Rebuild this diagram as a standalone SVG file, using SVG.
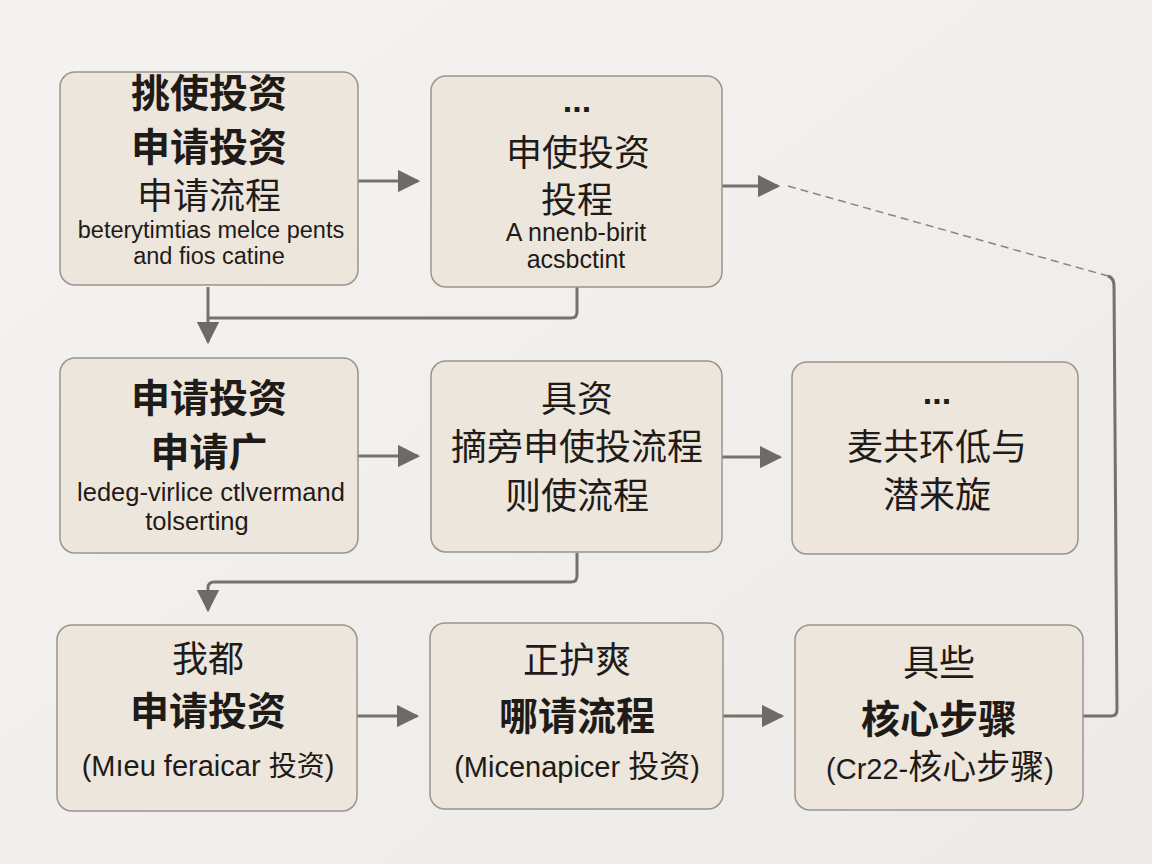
<svg xmlns="http://www.w3.org/2000/svg" width="1152" height="864" viewBox="0 0 1152 864">
<defs>
<linearGradient id="bg" x1="0" y1="0" x2="1" y2="1">
<stop offset="0" stop-color="#f4f3f1"/>
<stop offset="1" stop-color="#ecebe8"/>
</linearGradient>
<marker id="ah" viewBox="0 0 10 10" refX="9" refY="5" markerWidth="7.5" markerHeight="7.5" orient="auto">
<path d="M0,0 L10,5 L0,10 z" fill="#6f6a66"/>
</marker>
</defs>
<style>
.box{fill:#ede6dd;stroke:#9a948d;stroke-width:1.5}
text{font-family:"Liberation Sans","Noto Sans CJK SC",sans-serif;fill:#1f1b18;text-anchor:middle}
.b{font-family:"Noto Sans CJK SC",sans-serif;font-weight:700;font-size:39px}
.c{font-family:"Noto Sans CJK SC",sans-serif;font-weight:400;font-size:36px}
.k{font-family:"Noto Sans CJK SC",sans-serif}
.dots{font-size:34px;font-weight:700}
.con{fill:none;stroke:#77716c;stroke-width:3;stroke-linejoin:round}
.dash{fill:none;stroke:#8a8580;stroke-width:1.5;stroke-dasharray:8 5}
</style>
<rect width="1152" height="864" fill="url(#bg)"/>

<g id="connectors">
<path class="con" d="M358,181 H418" marker-end="url(#ah)"/>
<path class="con" d="M722,186 H778" marker-end="url(#ah)"/>
<path class="dash" d="M788,186 L1108,276"/>
<path class="con" d="M1108,276 Q1114,278 1114,286 L1117,710 Q1117,716 1111,716 H1083"/>
<path class="con" d="M577,287 V312 Q577,318 571,318 H208"/>
<path class="con" d="M208,287 V342" marker-end="url(#ah)"/>
<path class="con" d="M358,456 H418" marker-end="url(#ah)"/>
<path class="con" d="M722,457 H780" marker-end="url(#ah)"/>
<path class="con" d="M577,553 V576 Q577,582 571,582 H214 Q208,582 208,588 V610" marker-end="url(#ah)"/>
<path class="con" d="M357,716 H417" marker-end="url(#ah)"/>
<path class="con" d="M723,716 H782" marker-end="url(#ah)"/>
</g>

<g id="node1">
<rect class="box" x="60" y="72" width="298" height="213" rx="15"/>
<text class="b" x="209" y="107" font-size="41">挑使投资</text>
<text class="b" x="209" y="161">申请投资</text>
<text class="c" x="209" y="209">申请流程</text>
<text x="211" y="238" font-size="23.5">beterytimtias melce pents</text>
<text x="209" y="264" font-size="23.5">and fios catine</text>
</g>

<g id="node2">
<rect class="box" x="431" y="76" width="291" height="211" rx="15"/>
<text class="dots" x="577" y="112">...</text>
<text class="c" x="578" y="166" font-size="37">申使投资</text>
<text class="c" x="577" y="213" font-size="37">投程</text>
<text x="576" y="241" font-size="25">A nnenb-birit</text>
<text x="576" y="268" font-size="25">acsbctint</text>
</g>

<g id="node3">
<rect class="box" x="60" y="358" width="298" height="195" rx="15"/>
<text class="b" x="209" y="412">申请投资</text>
<text class="b" x="209" y="466">申请广</text>
<text x="211" y="501" font-size="25.5">ledeg-virlice ctlvermand</text>
<text x="197" y="530" font-size="25.5">tolserting</text>
</g>

<g id="node4">
<rect class="box" x="431" y="361" width="291" height="191" rx="15"/>
<text class="c" x="577" y="412">具资</text>
<text class="c" x="577" y="460" font-size="37">摘旁申使投流程</text>
<text class="c" x="577" y="509">则使流程</text>
</g>

<g id="node5">
<rect class="box" x="792" y="362" width="286" height="192" rx="15"/>
<text class="dots" x="937" y="404">...</text>
<text class="c" x="937" y="460">麦共环低与</text>
<text class="c" x="937" y="508">潜来旋</text>
</g>

<g id="node6">
<rect class="box" x="57" y="625" width="300" height="186" rx="15"/>
<text class="c" x="208" y="672">我都</text>
<text class="b" x="208" y="725" font-size="41">申请投资</text>
<text x="208" y="776" font-size="29">(Mıeu feraicar <tspan class="k" font-size="28">投资</tspan>)</text>
</g>

<g id="node7">
<rect class="box" x="430" y="623" width="293" height="186" rx="15"/>
<text class="c" x="577" y="673">正护爽</text>
<text class="b" x="577" y="730" font-size="41">哪请流程</text>
<text x="577" y="777" font-size="29">(Micenapicer <tspan class="k" font-size="31">投资</tspan>)</text>
</g>

<g id="node8">
<rect class="box" x="795" y="625" width="288" height="185" rx="15"/>
<text class="c" x="939" y="676">具些</text>
<text class="b" x="939" y="733" font-size="41">核心步骤</text>
<text x="940" y="779" font-size="29">(Cr22-<tspan class="k" font-size="34">核心步骤</tspan>)</text>
</g>
</svg>
